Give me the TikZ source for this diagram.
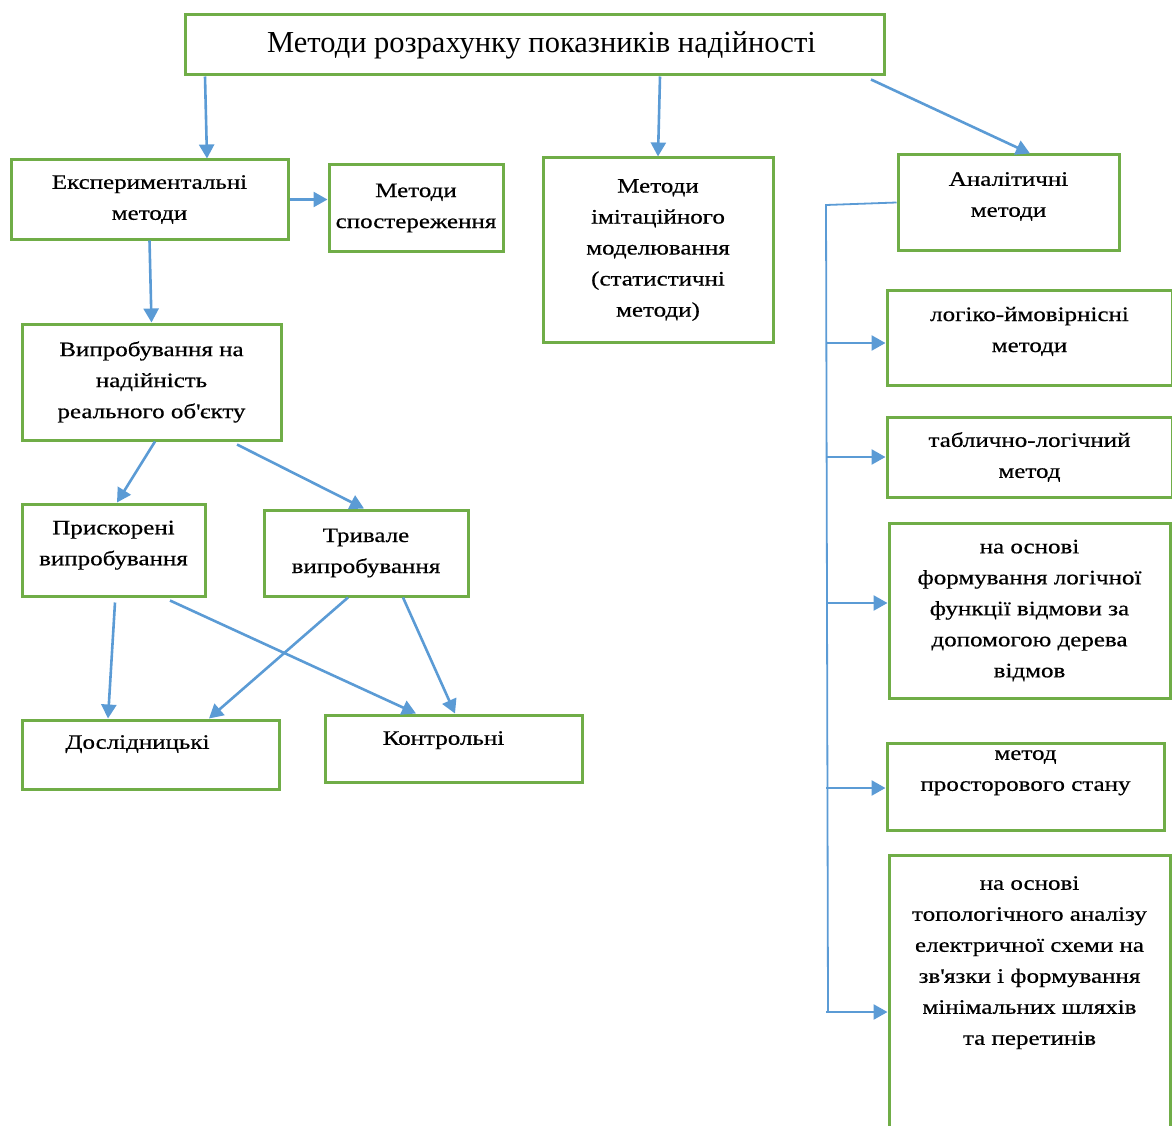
\documentclass[tikz,border=0pt]{standalone}
\usepackage{fontspec}
\setmainfont{Liberation Serif}
\newfontfamily\wideserif[FakeStretch=1.22,FakeBold=0.5]{Liberation Serif}
\usetikzlibrary{arrows.meta}
\definecolor{boxgreen}{HTML}{70AD47}
\definecolor{linkblue}{HTML}{5B9BD5}
\tikzset{
  box/.style={draw=boxgreen, line width=3pt, align=center, inner sep=2pt,
    font=\wideserif\fontsize{20.5}{31}\selectfont},
  link/.style={draw=linkblue, line width=2.6pt, -{Triangle[length=14pt,width=15pt]}},
  wire/.style={draw=linkblue, line width=1.8pt}
}
\begin{document}
\begin{tikzpicture}[x=1pt, y=-1pt]
    \useasboundingbox (0,0) rectangle (1172,1126);

    \node[box, minimum width=699pt, minimum height=60pt, font=\fontsize{30.5}{34}\selectfont] (title) at (534.5,45) {\hspace{14pt}Методи розрахунку показників надійності};

    \node[box, minimum width=277pt, minimum height=79pt] (exp) at (149.5,199.5) {Експериментальні\\методи};
    \node[box, minimum width=174pt, minimum height=86pt] (obs) at (416,208) {Методи\\спостереження};
    \node[box, minimum width=230pt, minimum height=184pt] (sim) at (658,250) {Методи\\імітаційного\\моделювання\\(статистичні\\методи)};
    \node[box, minimum width=221pt, minimum height=95pt, text depth=16pt] (anal) at (1008.5,202.5) {Аналітичні\\методи};

    \node[box, minimum width=259pt, minimum height=116pt] (trial) at (151.5,382) {Випробування на\\надійність\\реального об\textquotesingle єкту};
    \node[box, minimum width=183pt, minimum height=92pt, text depth=14pt] (accel) at (113.5,550) {Прискорені\\випробування};
    \node[box, minimum width=204pt, minimum height=86pt] (long) at (366,553) {Тривале\\випробування};
    \node[box, minimum width=257pt, minimum height=69pt, text depth=25pt] (research) at (150.5,754.5) {Дослідницькі\hspace{26pt}};
    \node[box, minimum width=257pt, minimum height=67pt, text depth=21pt] (control) at (453.5,748.5) {Контрольні\hspace{20pt}};

    \node[box, minimum width=285pt, minimum height=95pt, text depth=16pt] (logprob) at (1029.5,337.5) {логіко-ймовірнісні\\методи};
    \node[box, minimum width=285pt, minimum height=80pt] (table) at (1029.5,457) {таблично-логічний\\метод};
    \node[box, minimum width=281pt, minimum height=175pt] (fault) at (1029.5,610.5) {на основі\\формування логічної\\функції відмови за\\допомогою дерева\\відмов};
    \node[box, minimum width=277pt, minimum height=87pt, text depth=32pt] (space) at (1025.5,786.5) {метод\\просторового стану};
    \node[box, minimum width=281pt, minimum height=295pt, text depth=84pt] (topo) at (1029.5,1002.5) {на основі\\топологічного аналізу\\електричної схеми на\\зв\textquotesingle язки і формування\\мінімальних шляхів\\та перетинів};

    \draw[link] ([xshift=-329.5pt]title.south) -- ([xshift=57.5pt]exp.north);
    \draw[link] ([xshift=125.5pt]title.south) -- (sim.north);
    \draw[link] ([xshift=336.5pt,yshift=-3pt]title.south) -- ([xshift=21.5pt]anal.north);
    \draw[link] (exp.east) -- (exp.east -| obs.west);
    \draw[link] (exp.south) -- (trial.north);

    \draw[link] ([xshift=3.5pt]trial.south) -- ([xshift=3.5pt]accel.north);
    \draw[link] ([xshift=85.5pt,yshift=-3pt]trial.south) -- ([xshift=-2pt]long.north);
    \draw[link] ([xshift=1.5pt,yshift=-5pt]accel.south) -- ([xshift=-42.5pt]research.north);
    \draw[link] ([xshift=56.5pt,yshift=-3pt]accel.south) -- ([xshift=-37.5pt]control.north);
    \draw[link] ([xshift=-18pt]long.south) -- ([xshift=58.5pt]research.north);
    \draw[link] ([xshift=37pt]long.south) -- ([xshift=1.5pt]control.north);

    \coordinate (bus) at (826,205);
    \coordinate (busend) at (828,1012);
    \draw[wire] (anal.west) -- (bus) -- (busend);
    \foreach \b/\s in {logprob/-5.5, table/0, fault/7.5, space/-1.5, topo/-9.5} {
      \coordinate (\b-in) at ([yshift=\s pt]\b.west);
      \draw[link] (\b-in -| bus) -- (\b-in);
    }
\end{tikzpicture}
\end{document}
